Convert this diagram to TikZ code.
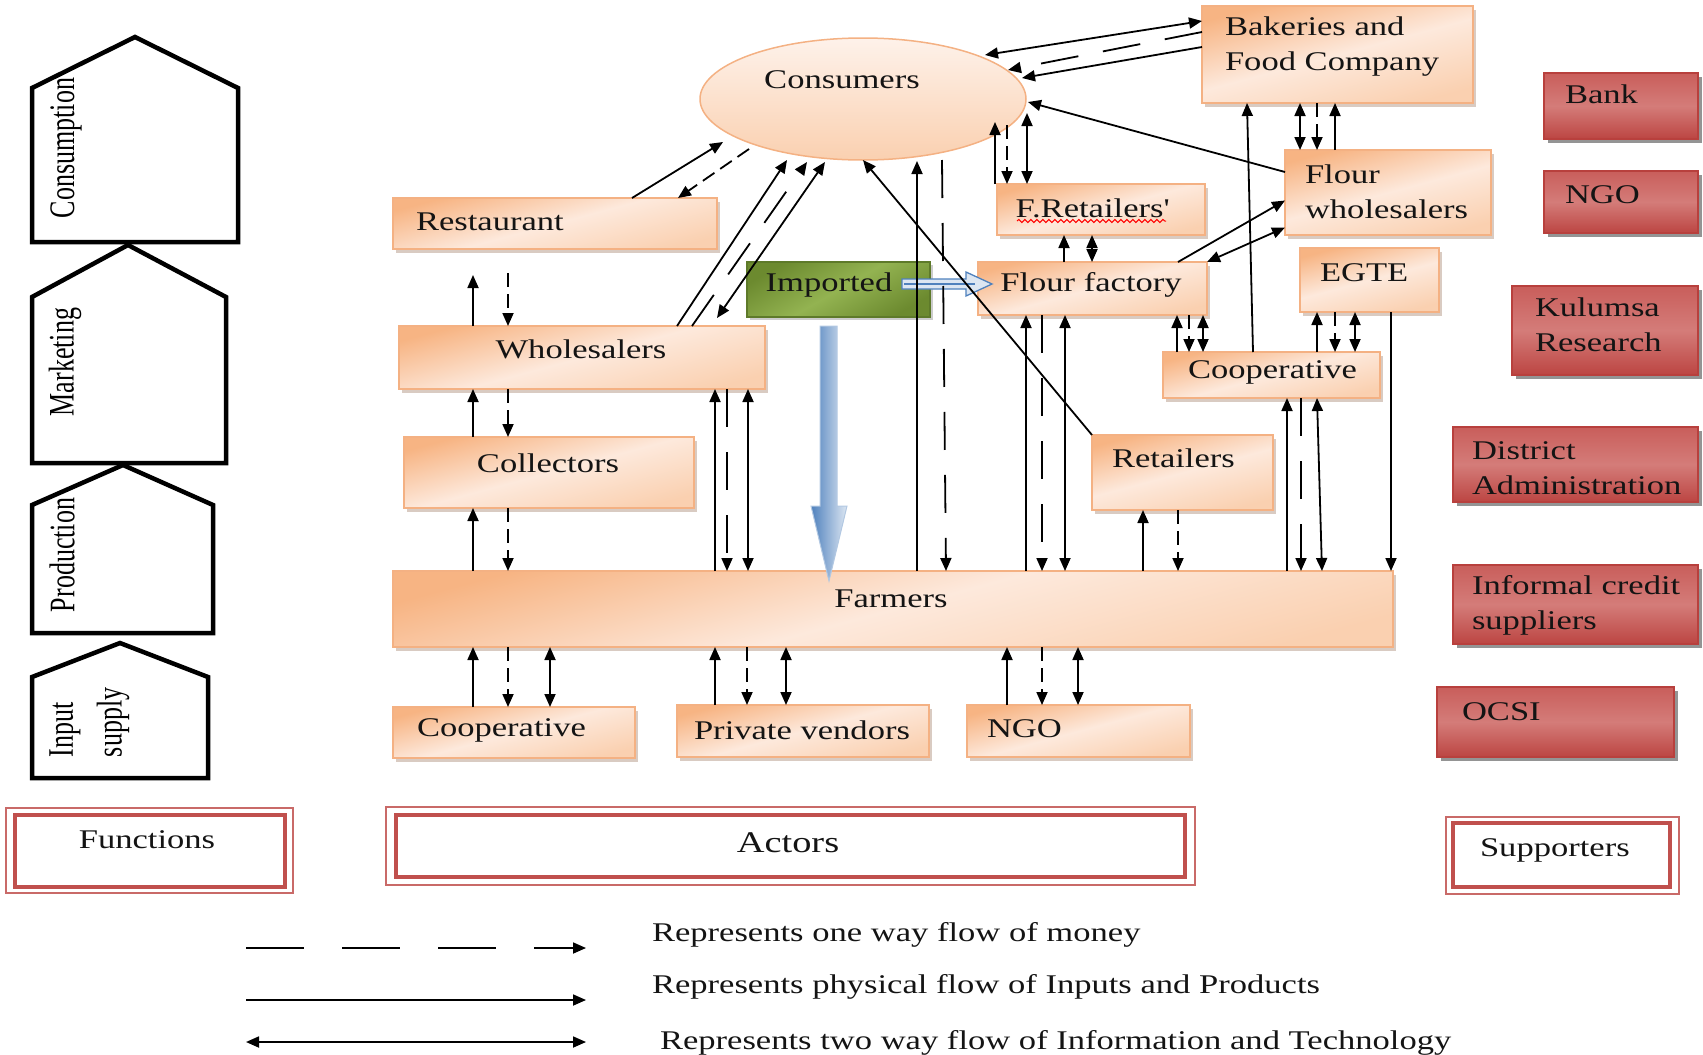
\documentclass[tikz,border=0pt]{standalone}
\usepackage{fontspec}
\setmainfont[FakeStretch=1.28]{Liberation Serif}
\newfontfamily\sidefont{Liberation Serif}
\usetikzlibrary{arrows.meta,shadows,shapes.geometric,decorations.pathmorphing}
\definecolor{obrd}{HTML}{F4B183}
\definecolor{ora}{HTML}{F7B483}
\definecolor{orl}{HTML}{FDE9DC}
\definecolor{orb}{HTML}{FAD0B0}
\definecolor{rbrd}{HTML}{B8403D}
\definecolor{rtop}{HTML}{C95E5B}
\definecolor{rmid}{HTML}{D47C79}
\definecolor{rbot}{HTML}{BC4542}
\definecolor{gbrd}{HTML}{5E7A2A}
\definecolor{gdark}{HTML}{6C8A2F}
\definecolor{glight}{HTML}{93B351}
\definecolor{dred}{HTML}{C0504D}
\definecolor{bl}{HTML}{4F81BD}
\definecolor{bll}{HTML}{DCE6F2}
\newcommand\bx[6]{\node[#2, anchor=north west, minimum width={(#5)-(#3)}, minimum height={(#6)-(#4)}] (#1) at (#3,#4) {};}
\newcommand\vc[4]{\draw[#1] (#2 -| #4,0) -- (#3 -| #4,0);}
\begin{document}
\begin{tikzpicture}[x=1pt,y=-1pt,
  every node/.style={inner sep=0pt, outer sep=0pt},
  >={Triangle[length=13pt,width=11pt]},
  txt/.style={font=\fontsize{27pt}{35pt}\selectfont, text=black!92, align=left},
  sidetxt/.style={font=\sidefont\fontsize{26pt}{30pt}\selectfont, rotate=90},
  pent/.style={draw=black, line width=4.5pt, fill=white, line join=miter},
  obox/.style={draw=obrd, line width=1.2pt, top color=ora, bottom color=orb, middle color=orl, shading angle=15,
     drop shadow={shadow xshift=3pt, shadow yshift=-4pt, fill=obrd!60!black, opacity=0.35}},
  rbox/.style={draw=rbrd, line width=1.2pt, top color=rtop, bottom color=rbot, middle color=rmid,
     drop shadow={shadow xshift=4pt, shadow yshift=-4pt, fill=black!70, opacity=0.6}},
  gbox/.style={draw=gbrd, line width=1.2pt, top color=gdark, bottom color=gdark, middle color=glight, shading angle=30,
     drop shadow={shadow xshift=3pt, shadow yshift=-3pt, fill=black!50, opacity=0.4}},
  cbox/.style={ellipse, draw=obrd, line width=1.5pt, top color=orl!60!white, bottom color=orb},
  dbox/.style={draw=dred!85, line width=2.5pt},
  dinner/.style={draw=dred, line width=4pt},
  phys/.style={line width=1.8pt, ->},
  money/.style={line width=1.8pt, ->, dash pattern=on 14pt off 7pt},
  moneyl/.style={line width=1.8pt, ->, dash pattern=on 38pt off 25pt},
  info/.style={line width=1.8pt, <->}
]
\useasboundingbox (0,0) rectangle (1703,1055);

% ---------- function pentagons ----------
\draw[pent] (32,88) -- (135,37) -- (238,88) -- (238,242) -- (32,242) -- cycle;
\draw[pent] (32,297) -- (128,245) -- (226,297) -- (226,463) -- (32,463) -- cycle;
\draw[pent] (32,505) -- (123,465) -- (213,505) -- (213,633) -- (32,633) -- cycle;
\draw[pent] (32,677) -- (120,643) -- (208,677) -- (208,778) -- (32,778) -- cycle;
\node[sidetxt] (sconsum) at (66,148) {\scalebox{1}[1.38]{Consumption}};
\node[sidetxt] (smarket) at (65,362) {\scalebox{1}[1.38]{Marketing}};
\node[sidetxt] (sprod) at (62,555) {\scalebox{1}[1.38]{Production}};
\node[sidetxt, anchor=west] (sinput) at (65,757) {\scalebox{1}[1.38]{Input}};
\node[sidetxt, anchor=west] (ssupply) at (113,757) {\scalebox{1}[1.38]{supply}};

% ---------- consumers ----------
\node[cbox, minimum width=326, minimum height=122] (cons) at (863,99) {};
\node[txt] (tcons) at (842,80) {Consumers};

% ---------- actor boxes ----------
\bx{restaurant}{obox}{393}{198}{717}{249}
\bx{whole}{obox}{399}{326}{765}{389}
\bx{collectors}{obox}{404}{437}{694}{508}
\bx{farmers}{obox}{393}{571}{1393}{647}
\bx{coopb}{obox}{393}{707}{635}{758}
\bx{pvend}{obox}{677}{705}{929}{757}
\bx{ngob}{obox}{967}{705}{1190}{757}
\bx{retailers}{obox}{1092}{435}{1273}{510}
\bx{bakeries}{obox}{1202}{6}{1473}{103}
\bx{fwhole}{obox}{1285}{150}{1491}{235}
\bx{fretail}{obox}{997}{184}{1205}{235}
\bx{ffactory}{obox}{978}{262}{1207}{315}
\bx{egte}{obox}{1300}{248}{1439}{312}
\bx{coopm}{obox}{1163}{352}{1380}{398}
\bx{imported}{gbox}{747}{262}{930}{317}

\node[txt, anchor=west] (trest) at (416,222) {Restaurant};
\node[txt] (twhole) at (581,349) {Wholesalers};
\node[txt] (tcoll) at (548,463) {Collectors};
\node[txt] (tfarm) at (891,599) {Farmers};
\node[txt, anchor=west] (tcoopb) at (417,730) {Cooperative};
\node[txt] (tpvend) at (802,730) {Private vendors};
\node[txt, anchor=west] (tngob) at (987,729) {NGO};
\node[txt, anchor=west] (tretail) at (1112,458) {Retailers};
\node[txt, anchor=west] (tbake) at (1225,47) {Bakeries and\\Food Company};
\node[txt, anchor=west] (tfwhole) at (1305,192) {Flour\\wholesalers};
\node[txt] (tfret) at (1092,208) {F.Retailers\textquotesingle};
\draw[red, line width=1pt, decorate, decoration={snake, amplitude=1.6pt, segment length=6pt}] (1017,221) -- (1166,221);
\node[txt] (tff) at (1091,285) {Flour factory};
\node[txt, anchor=west] (tegte) at (1320,273) {EGTE};
\node[txt, anchor=west] (tcoopm) at (1188,372) {Cooperative};
\node[txt] (timp) at (829,285) {Imported};

% ---------- supporters ----------
\bx{bank}{rbox}{1544}{73}{1698}{139}
\bx{ngor}{rbox}{1544}{171}{1698}{233}
\bx{kulumsa}{rbox}{1512}{286}{1698}{375}
\bx{district}{rbox}{1453}{427}{1698}{502}
\bx{informal}{rbox}{1453}{565}{1698}{644}
\bx{ocsi}{rbox}{1437}{687}{1674}{757}
\node[txt, anchor=west] (tbank) at (1565,94) {Bank};
\node[txt, anchor=west] (tngor) at (1565,195) {NGO};
\node[txt, anchor=west] (tkul) at (1535,325) {Kulumsa\\Research};
\node[txt, anchor=west] (tdist) at (1472,468) {District\\Administration};
\node[txt, anchor=west] (tinf) at (1472,605) {Informal credit\\suppliers};
\node[txt, anchor=west] (tocsi) at (1462,712) {OCSI};

% ---------- category boxes ----------
\bx{functions}{dbox}{6}{808}{293}{893}
\draw[dinner] ([shift={(9,7)}]functions.north west) rectangle ([shift={(-8,-6)}]functions.south east);
\node[txt] (tfunc) at (147,840) {Functions};
\bx{actors}{dbox}{386}{807}{1195}{885}
\draw[dinner] ([shift={(10,8)}]actors.north west) rectangle ([shift={(-10,-8)}]actors.south east);
\node[txt, font=\fontsize{30pt}{35pt}\selectfont] (tact) at (788,843) {Actors};
\bx{supporters}{dbox}{1446}{817}{1679}{894}
\draw[dinner] ([shift={(7,6)}]supporters.north west) rectangle ([shift={(-9,-7)}]supporters.south east);
\node[txt, anchor=west] (tsup) at (1480,850) {Supporters};

% ---------- blue import arrows ----------
\draw[draw=bl, line width=1.3pt, fill=bll] (902,279) -- (966,279) -- (966,272) -- (992,284) -- (966,296) -- (966,289) -- (902,289) -- cycle;
\draw[draw=bl, line width=2pt] (904,284) -- (975,284);
\draw[draw=bll!70!bl, line width=1pt, left color=bl, right color=bll] (820,326) -- (837,326) -- (837,506) -- (847,506) -- (829,581) -- (811,506) -- (820,506) -- cycle;

% ---------- connectors ----------
% restaurant - consumers
\draw[phys] (restaurant.north -| 632,0) -- (723,142);
\draw[money] (749,149) -- (restaurant.north -| 678,0);
% wholesalers - consumers
\draw[phys] (whole.north -| 677,0) -- (787,160);
\draw[moneyl] (whole.north -| 692,0) -- (807,162);
\draw[info] (717,318) -- (825,162);
% restaurant - wholesalers
\draw[phys] (whole.north -| 473,0) -- (473,275);
\draw[money] (508,273) -- (whole.north -| 508,0);
% wholesalers - collectors - farmers
\vc{phys}{collectors.north}{whole.south}{473}
\vc{money}{whole.south}{collectors.north}{508}
\vc{phys}{farmers.north}{collectors.south}{473}
\vc{money}{collectors.south}{farmers.north}{508}
% wholesalers - farmers
\vc{phys}{farmers.north}{whole.south}{715}
\vc{moneyl}{whole.south}{farmers.north}{727}
\vc{info}{whole.south}{farmers.north}{748}
% farmers - consumers
\draw[phys] (farmers.north -| 917,0) -- (917,161);
\draw[moneyl] (942,160) -- (farmers.north -| 946,0);
% retailers - consumers
\draw[phys] (retailers.north west) -- (cons.south);
% farmers - flour factory
\vc{phys}{farmers.north}{ffactory.south}{1026}
\vc{moneyl}{ffactory.south}{farmers.north}{1042}
\vc{info}{ffactory.south}{farmers.north}{1065}
% retailers - farmers
\vc{phys}{farmers.north}{retailers.south}{1143}
\vc{money}{retailers.south}{farmers.north}{1178}
% cooperative - farmers
\vc{phys}{farmers.north}{coopm.south}{1287}
\vc{moneyl}{coopm.south}{farmers.north}{1301}
\draw[info] (coopm.south -| 1317,0) -- (farmers.north -| 1322,0);
% EGTE - farmers
\vc{phys}{egte.south}{farmers.north}{1391}
% cooperative - bakeries
\draw[phys] (coopm.north -| 1253,0) -- (bakeries.south -| 1247,0);
% flour factory - cooperative
\vc{phys}{coopm.north}{ffactory.south}{1177}
\vc{money}{ffactory.south}{coopm.north}{1189}
\vc{info}{ffactory.south}{coopm.north}{1203}
% cooperative - EGTE
\vc{phys}{coopm.north}{egte.south}{1317}
\vc{money}{egte.south}{coopm.north}{1335}
\vc{info}{egte.south}{coopm.north}{1355}
% flour factory - F.Retailers
\vc{phys}{ffactory.north}{fretail.south}{1064}
\vc{info}{ffactory.north}{fretail.south}{1092}
% flour factory - flour wholesalers
\draw[phys] (ffactory.north -| 1178,0) -- ([yshift=-8pt]fwhole.west);
\draw[info] ([yshift=-35pt]fwhole.west) -- (ffactory.north east);
% F.Retailers - consumers
\draw[phys] (fretail.north -| 995,0) -- (995,122);
\draw[money] (1007,125) -- (fretail.north -| 1007,0);
\draw[info] (1027,113) -- (fretail.north -| 1027,0);
% bakeries - flour wholesalers
\vc{info}{bakeries.south}{fwhole.north}{1300}
\vc{money}{bakeries.south}{fwhole.north}{1317}
\vc{phys}{fwhole.north}{bakeries.south}{1335}
% flour wholesalers - consumers
\draw[phys] ([yshift=-22pt]fwhole.north west) -- (1028,102);
% bakeries - consumers
\draw[info] ([yshift=-15pt]bakeries.north west) -- (985,55);
\draw[moneyl] ([yshift=-26pt]bakeries.north west) -- (1008,70);
\draw[phys] ([yshift=-41pt]bakeries.north west) -- (1022,78);
% input suppliers - farmers
\vc{phys}{coopb.north}{farmers.south}{473}
\vc{money}{farmers.south}{coopb.north}{508}
\vc{info}{farmers.south}{coopb.north}{550}
\vc{phys}{pvend.north}{farmers.south}{715}
\vc{money}{farmers.south}{pvend.north}{747}
\vc{info}{farmers.south}{pvend.north}{786}
\vc{phys}{ngob.north}{farmers.south}{1007}
\vc{money}{farmers.south}{ngob.north}{1042}
\vc{info}{farmers.south}{ngob.north}{1078}

% ---------- legend ----------
\coordinate (la1) at (246,948); \coordinate (lb1) at (586,948);
\coordinate (la2) at (246,1000); \coordinate (lb2) at (586,1000);
\coordinate (la3) at (246,1042); \coordinate (lb3) at (586,1042);
\draw[line width=1.8pt, ->, dash pattern=on 58pt off 38pt] (la1) -- (lb1);
\draw[phys] (la2) -- (lb2);
\draw[info] (la3) -- (lb3);
\node[txt, anchor=west] (leg1) at (652,935) {Represents one way flow of money};
\node[txt, anchor=west] (leg2) at (652,987) {Represents physical flow of Inputs and Products};
\node[txt, anchor=west] (leg3) at (660,1043) {Represents two way flow of Information and Technology};
\end{tikzpicture}
\end{document}
